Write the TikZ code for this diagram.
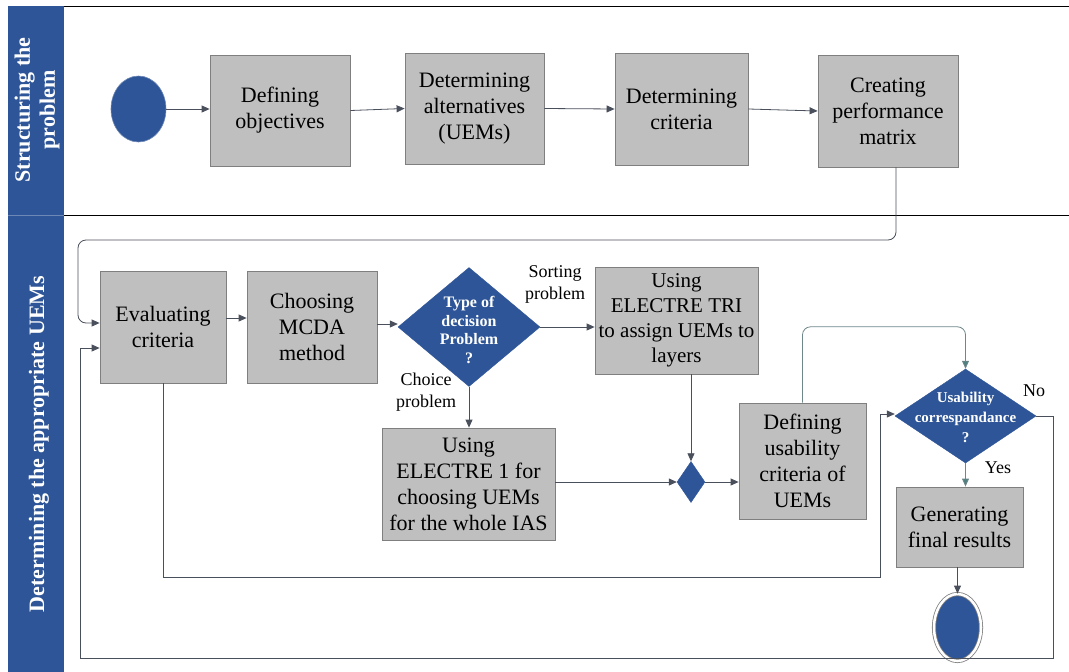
\documentclass[tikz,border=0pt]{standalone}
\usepackage{fontspec}
\setmainfont{LiberationSerif}[Extension=.ttf, UprightFont=*-Regular, BoldFont=*-Bold, ItalicFont=*-Italic, BoldItalicFont=*-BoldItalic]
\usetikzlibrary{shapes.geometric,arrows.meta}
\definecolor{bandblue}{HTML}{2E5597}
\definecolor{boxgray}{HTML}{BFBFBF}
\definecolor{boxedge}{HTML}{7F7F7F}
\definecolor{conncol}{HTML}{4A4F5C}
\definecolor{tealtip}{HTML}{4E8080}
\definecolor{tealline}{HTML}{6F868A}
\begin{document}
\begin{tikzpicture}[x=1pt,y=-1pt,
  box/.style={draw=boxedge, fill=boxgray, line width=0.8pt, align=center,
    font=\fontsize{22}{26}\selectfont, inner sep=1pt},
  conn/.style={draw=conncol, line width=0.8pt, -{Triangle[length=8pt,width=7pt]}},
  tconn/.style={draw=tealline, line width=0.8pt, -{Triangle[length=8pt,width=7pt,fill=tealtip]}},
  dia/.style={diamond, fill=bandblue, draw=bandblue, inner sep=0pt},
  diatext/.style={text=white, align=center, font=\bfseries\fontsize{16}{18.5}\selectfont},
  lbl/.style={align=center, font=\fontsize{18}{22}\selectfont},
  lane/.style={rotate=90, text=white, align=center, font=\bfseries\fontsize{22}{25}\selectfont}
]
\useasboundingbox (0,0) rectangle (1069,672);
% lanes
\fill[bandblue] (8,6) rectangle (64,672);
\draw[bandblue!70!white, line width=0.8pt] (8,215) -- (64,215);
\draw[black, line width=0.8pt] (64,6) -- (1069,6);
\draw[black, line width=0.8pt] (64,215) -- (1069,215);
\node[lane] (lane1) at (37,110) {Structuring the\\problem};
\node[lane] (lane2) at (39,444) {Determining the appropriate UEMs};

% top row
\node[ellipse, fill=bandblue, draw=bandblue!70!white, line width=0.6pt,
  minimum width=55pt, minimum height=66pt] (start) at (138.5,109) {};
\node[box, minimum width=140pt, minimum height=111pt] (defobj) at (280,110.5) {Defining\\objectives};
\node[box, minimum width=139pt, minimum height=111pt] (alt) at (474.5,108.5) {Determining\\alternatives\\(UEMs)};
\node[box, minimum width=133pt, minimum height=112pt] (crit) at (681.5,109) {Determining\\criteria};
\node[box, minimum width=140pt, minimum height=112pt] (matrix) at (888,111) {Creating\\performance\\matrix};

% second lane
\node[box, minimum width=126pt, minimum height=112pt] (evalc) at (163,327) {Evaluating\\criteria};
\node[box, minimum width=130pt, minimum height=112pt] (mcda) at (312,327) {Choosing\\MCDA\\method};
\node[dia, minimum width=142pt, minimum height=119pt] (dtype) at (469,327) {};
\node[diatext] (dtypet) at (469,330) {Type of\\decision\\Problem\\?};
\node[box, minimum width=163pt, minimum height=107pt, inner sep=0pt, font=\fontsize{21}{25}\selectfont] (tri) at (676.5,320.5) {Using\\ELECTRE TRI\\to assign UEMs to\\layers};
\node[box, minimum width=173pt, minimum height=112pt] (e1) at (468.5,484) {Using\\ELECTRE 1 for\\choosing UEMs\\for the whole IAS};
\node[dia, minimum width=28pt, minimum height=41pt] (sd) at (691,482) {};
\node[box, minimum width=127pt, minimum height=116pt] (defuse) at (802.5,461) {Defining\\usability\\criteria of\\UEMs};
\node[dia, minimum width=141pt, minimum height=94pt] (ucorr) at (965.5,416) {};
\node[diatext, font=\bfseries\fontsize{15}{20}\selectfont] (ucorrt) at (965.5,417) {Usability\\correspandance\\?};
\node[box, minimum width=127pt, minimum height=80pt] (gen) at (959.5,527) {Generating\\final results};
\node[ellipse, fill=bandblue, draw=boxedge, line width=0.8pt, double=white, double distance=2.5pt,
  minimum width=47pt, minimum height=67pt] (endc) at (957.5,627.5) {};

% labels
\node[lbl] (sortl) at (555,284) {Sorting\\problem};
\node[lbl] (choicel) at (426,392) {Choice\\problem};
\node[lbl] (nol) at (1034,391) {No};
\node[lbl] (yesl) at (998,468) {Yes};

% connectors top
\draw[conn] (start.east) -- (defobj.west |- start.east);
\draw[conn] (defobj.east) -- (alt.west);
\draw[conn] (alt.east) -- (crit.west);
\draw[conn] (crit.east) -- (matrix.west);
\draw[conn, rounded corners=8pt] ([xshift=8pt]matrix.south) |- (78,240) |- ([yshift=4pt]evalc.west);

% connectors lane 2
\draw[conn] ([yshift=9pt]evalc.east) -- ([yshift=9pt]evalc.east -| mcda.west);
\draw[conn] ([yshift=3pt]mcda.east) -- ([yshift=3pt]dtype.west);
\draw[conn] (dtype.east) -- (dtype.east -| tri.west);
\draw[conn] (dtype.south) -- (dtype.south |- e1.north);
\draw[conn] (sd.north |- tri.south) -- (sd.north);
\draw[conn] (e1.east |- sd.west) -- (sd.west);
\draw[conn] (sd.east) -- (sd.east -| defuse.west);
\draw[tconn, rounded corners=8pt] (defuse.north) |- ([yshift=42pt]ucorr.north) -- (ucorr.north);
\draw[tconn] (ucorr.south) -- (ucorr.south |- gen.north);
\draw[conn] (endc.north |- gen.south) -- (endc.north);
\draw[conn] (evalc.south) |- (880,577) |- ([yshift=2pt]ucorr.west);
\draw[conn] (ucorr.east) -- (1053,416) |- (80,658) |- ([yshift=-21pt]evalc.west);
\end{tikzpicture}
\end{document}
